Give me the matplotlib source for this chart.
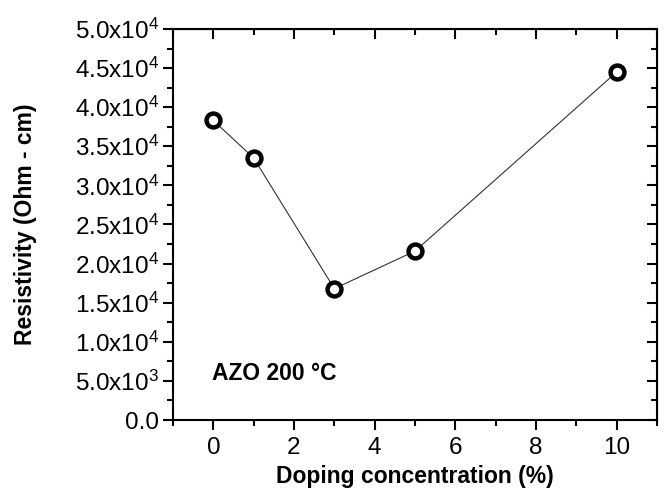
import matplotlib
matplotlib.use('Agg')
import matplotlib.pyplot as plt
from matplotlib.ticker import MultipleLocator, FuncFormatter

# doping concentration (%) vs resistivity
doping = [0, 1, 3, 5, 10]
resistivity = [38300, 33500, 16800, 21600, 44500]

plt.rcParams['font.family'] = ['Liberation Sans', 'DejaVu Sans']
plt.rcParams['mathtext.default'] = 'regular'

fig = plt.figure(figsize=(6.66, 4.9), dpi=100)
ax = fig.add_axes([173/666, 70/490, 484/666, 391/490])

ax.plot(doping, resistivity, '-', color='#333333', lw=0.8, zorder=1)
ax.plot(doping, resistivity, 'o', mfc='white', mec='black', mew=3.2, ms=10, zorder=2)

ax.set_xlim(-1, 11)
ax.set_ylim(0, 50000)
ax.xaxis.set_major_locator(MultipleLocator(2))
ax.xaxis.set_minor_locator(MultipleLocator(1))
ax.yaxis.set_major_locator(MultipleLocator(5000))
ax.yaxis.set_minor_locator(MultipleLocator(2500))


def fmt(v, pos):
    if v == 0:
        return '0.0'
    e = 4 if v >= 10000 else 3
    return r'%.1fx10$^{%d}$' % (v / 10**e, e)


ax.yaxis.set_major_formatter(FuncFormatter(fmt))

for s in ax.spines.values():
    s.set_linewidth(1.5)
ax.tick_params(which='both', direction='out', width=1.5, labelsize=17.5, top=False, right=False)
ax.tick_params(which='major', length=7)
ax.tick_params(which='minor', length=4)
ax.tick_params(axis='x', which='major', pad=5)
ax.tick_params(axis='y', which='major', pad=3)
ax2 = ax.secondary_xaxis('top')
ax2.xaxis.set_major_locator(MultipleLocator(2))
ax2.xaxis.set_minor_locator(MultipleLocator(1))
ax2.tick_params(which='both', direction='in', width=1.5, labeltop=False)
ax2.tick_params(which='major', length=7)
ax2.tick_params(which='minor', length=4)
ay2 = ax.secondary_yaxis('right')
ay2.yaxis.set_major_locator(MultipleLocator(5000))
ay2.yaxis.set_minor_locator(MultipleLocator(2500))
ay2.tick_params(which='both', direction='in', width=1.5, labelright=False)
ay2.tick_params(which='major', length=7)
ay2.tick_params(which='minor', length=4)

ax.set_xlabel('Doping concentration (%)', fontsize=16.5, fontweight='bold')
ax.set_ylabel('Resistivity (Ohm - cm)', fontsize=16.5, fontweight='bold')
ax.xaxis.set_label_coords(0.5, -0.115)
ax.yaxis.set_label_coords(-0.282, 0.5)
ax.text(-0.03, 5900, 'AZO 200 °C', fontsize=16.5, fontweight='bold', ha='left', va='center')

fig.savefig('out.png', dpi=100)
